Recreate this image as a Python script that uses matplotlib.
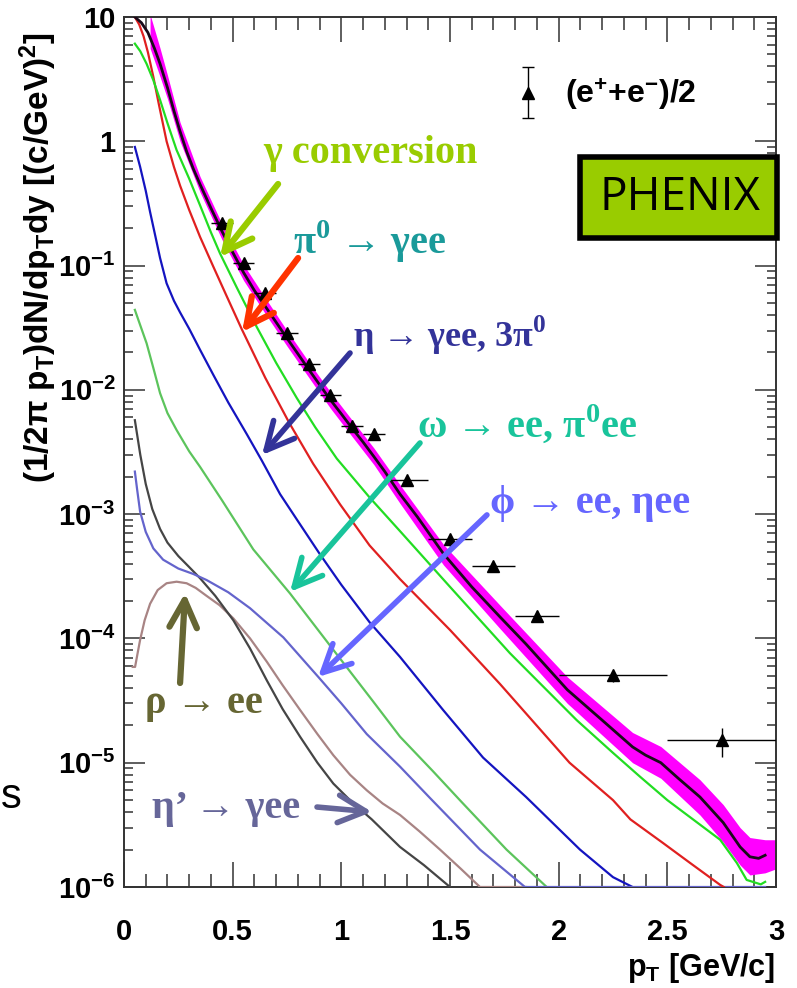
import numpy as np
import matplotlib
matplotlib.use("Agg")
import matplotlib.pyplot as plt
from matplotlib.patches import Rectangle
from matplotlib.ticker import FixedLocator, FixedFormatter, LogLocator, MultipleLocator, NullFormatter
from matplotlib.container import ErrorbarContainer
from matplotlib.legend_handler import HandlerErrorbar

plt.rcParams["mathtext.fontset"] = "custom"
plt.rcParams["mathtext.rm"] = "Liberation Sans:bold"
plt.rcParams["mathtext.it"] = "Liberation Sans:bold"
plt.rcParams["mathtext.bf"] = "Liberation Serif:bold"
plt.rcParams["font.family"] = ["Liberation Sans", "DejaVu Sans"]

# measured single electrons (e+ + e-)/2
pt_data = [0.45, 0.55, 0.65, 0.75, 0.85, 0.95, 1.05, 1.15, 1.3, 1.5, 1.7, 1.9, 2.25, 2.75]
yield_data = [0.221, 0.105, 0.0602, 0.0288, 0.0161, 0.0091, 0.00515, 0.0044,
              1.88e-3, 6.28e-4, 3.83e-4, 1.52e-4, 5.08e-5, 1.51e-5]
pt_halfwidth = [0.05, 0.05, 0.05, 0.05, 0.05, 0.05, 0.05, 0.05, 0.1, 0.1, 0.1, 0.1, 0.25, 0.25]
err_lo = [0, 0, 0, 0, 0, 0, 0, 0, 0.1e-3, 0.8e-4, 0.3e-4, 0.15e-4, 0.6e-5, 0.4e-5]
err_hi = [0, 0, 0, 0, 0, 0, 0, 0, 0.1e-3, 0.3e-4, 0.3e-4, 0.15e-4, 0.3e-5, 0.4e-5]

# cocktail sum and its systematic band
pt_sum = [0.05, 0.08, 0.11, 0.14, 0.166, 0.20, 0.23, 0.258, 0.288, 0.319, 0.35, 0.40, 0.45,
          0.50, 0.55, 0.60, 0.65, 0.70, 0.75, 0.80, 0.85, 0.90, 0.95, 1.00, 1.05, 1.10, 1.15,
          1.20, 1.27, 1.35, 1.47, 1.60, 1.73, 1.85, 2.04, 2.20, 2.34, 2.40, 2.47, 2.55, 2.65,
          2.757, 2.835, 2.88, 2.92, 2.95]
sum_yield = [10.0, 9.0, 7.5, 5.6, 4.2, 2.7, 1.75, 1.2, 0.83, 0.6, 0.45, 0.29, 0.19, 0.128,
             0.088, 0.063, 0.047, 0.035, 0.026, 0.0195, 0.0146, 0.011, 0.0083, 0.0064, 0.0049,
             0.0038, 0.0029, 0.0022, 1.45e-3, 9.5e-4, 4.8e-4, 2.6e-4, 1.49e-4, 9.0e-5,
             3.86e-5, 2.2e-5, 1.34e-5, 1.15e-5, 1.0e-5, 7.5e-6, 5.3e-6, 3.3e-6, 2.1e-6,
             1.75e-6, 1.7e-6, 1.8e-6]
pt_band = [0.12, 0.166, 0.20, 0.258, 0.35, 0.45, 0.55, 0.65, 0.75, 0.85, 0.95, 1.05, 1.15,
           1.27, 1.47, 1.73, 2.04, 2.34, 2.47, 2.65, 2.757, 2.835, 2.88, 2.95, 3.0]
band_hi = [10.5, 5.6, 3.4, 1.42, 0.52, 0.218, 0.102, 0.055, 0.030, 0.0168, 0.0096, 0.0057,
           0.0034, 1.72e-3, 5.7e-4, 1.85e-4, 4.9e-5, 1.75e-5, 1.35e-5, 7.3e-6, 4.6e-6,
           3.0e-6, 2.5e-6, 2.4e-6, 2.4e-6]
band_lo = [5.6, 3.3, 2.2, 1.0, 0.39, 0.163, 0.076, 0.041, 0.0225, 0.0126, 0.0071, 0.0042,
           0.0025, 1.22e-3, 3.9e-4, 1.2e-4, 3.0e-5, 1.0e-5, 7.5e-6, 3.8e-6, 2.3e-6, 1.5e-6,
           1.25e-6, 1.3e-6, 1.4e-6]

# photon conversions
pt_conv = [0.05, 0.075, 0.104, 0.135, 0.166, 0.20, 0.242, 0.30, 0.35, 0.40, 0.442, 0.52,
           0.611, 0.70, 0.795, 0.88, 0.979, 1.132, 1.27, 1.5, 1.776, 2.083, 2.25, 2.375, 2.5,
           2.743, 2.82, 2.865, 2.93, 2.95]
conv_yield = [6.1, 5.3, 4.2, 3.1, 2.15, 1.4, 0.85, 0.50, 0.305, 0.185, 0.125, 0.066, 0.032,
              0.0165, 8.6e-3, 5.0e-3, 2.8e-3, 1.35e-3, 7.3e-4, 2.6e-4, 7.6e-5, 2.2e-5,
              1.2e-5, 7.7e-6, 5.0e-6, 2.4e-6, 1.56e-6, 1.14e-6, 1.05e-6, 1.1e-6]

# pi0 Dalitz
pt_pi0 = [0.05, 0.07, 0.09, 0.11, 0.135, 0.16, 0.196, 0.23, 0.258, 0.30, 0.35, 0.411, 0.47,
          0.541, 0.65, 0.761, 0.87, 0.994, 1.13, 1.27, 1.5, 1.73, 2.05, 2.25, 2.33, 2.48,
          2.605, 2.743, 2.76]
pi0_yield = [10.0, 8.7, 7.0, 5.2, 3.3, 2.0, 1.0, 0.62, 0.44, 0.28, 0.17, 0.098, 0.058,
             0.031, 0.0125, 5.4e-3, 2.55e-3, 1.2e-3, 5.6e-4, 3.0e-4, 1.17e-4, 4.3e-5,
             1.0e-5, 5.0e-6, 3.5e-6, 2.26e-6, 1.56e-6, 1.04e-6, 1.0e-6]

# eta -> gamma ee, 3pi0
pt_eta = [0.05, 0.074, 0.10, 0.12, 0.145, 0.166, 0.196, 0.23, 0.258, 0.30, 0.35, 0.411,
          0.48, 0.565, 0.634, 0.718, 0.80, 0.90, 1.0, 1.13, 1.27, 1.468, 1.652, 1.85, 2.098,
          2.25, 2.34]
eta_yield = [0.9, 0.625, 0.40, 0.27, 0.17, 0.115, 0.072, 0.052, 0.042, 0.031, 0.021, 0.0132,
             7.9e-3, 4.4e-3, 2.7e-3, 1.45e-3, 8.8e-4, 4.8e-4, 2.7e-4, 1.35e-4, 7.1e-5,
             2.66e-5, 1.1e-5, 5.3e-6, 2.0e-6, 1.2e-6, 1.0e-6]

# omega
pt_omega = [0.05, 0.075, 0.104, 0.135, 0.166, 0.20, 0.242, 0.30, 0.35, 0.45, 0.595, 0.764,
            0.963, 1.147, 1.27, 1.42, 1.55, 1.76, 1.945]
omega_yield = [0.044, 0.033, 0.0237, 0.015, 9.4e-3, 6.5e-3, 4.75e-3, 3.2e-3, 2.4e-3, 1.3e-3,
               5.2e-4, 2.3e-4, 8.1e-5, 3.1e-5, 1.62e-5, 8.6e-6, 4.9e-6, 2.0e-6, 1.0e-6]

# phi
pt_phi = [0.05, 0.06, 0.074, 0.10, 0.135, 0.18, 0.25, 0.319, 0.38, 0.48, 0.58, 0.733, 0.894,
          1.0, 1.117, 1.27, 1.408, 1.638, 1.845, 2.95]
phi_yield = [2.2e-3, 1.6e-3, 1.05e-3, 7.2e-4, 5.3e-4, 4.3e-4, 3.65e-4, 3.3e-4, 2.95e-4,
             2.35e-4, 1.75e-4, 1.02e-4, 4.9e-5, 3.0e-5, 1.7e-5, 9.3e-6, 5.2e-6, 2.0e-6,
             1.0e-6, 1.0e-6]

# eta'
pt_etap = [0.05, 0.075, 0.10, 0.13, 0.166, 0.20, 0.25, 0.30, 0.35, 0.42, 0.503, 0.58, 0.657,
           0.73, 0.81, 0.89, 0.963, 1.05, 1.14, 1.27, 1.38, 1.50]
etap_yield = [5.7e-3, 3.0e-3, 1.75e-3, 1.1e-3, 7.6e-4, 5.9e-4, 4.6e-4, 3.75e-4, 3.05e-4,
              2.2e-4, 1.4e-4, 8.3e-5, 4.6e-5, 2.7e-5, 1.62e-5, 1.0e-5, 6.8e-6, 4.8e-6,
              3.5e-6, 2.1e-6, 1.5e-6, 1.0e-6]

# rho
pt_rho = [0.04, 0.051, 0.062, 0.074, 0.095, 0.12, 0.155, 0.196, 0.242, 0.288, 0.33, 0.38,
          0.44, 0.503, 0.58, 0.657, 0.73, 0.81, 0.89, 0.963, 1.04, 1.117, 1.19, 1.27, 1.36,
          1.454, 1.55, 1.638, 1.85]
rho_yield = [5.9e-5, 5.9e-5, 7.5e-5, 9.7e-5, 1.4e-4, 1.9e-4, 2.45e-4, 2.78e-4, 2.86e-4,
             2.78e-4, 2.55e-4, 2.2e-4, 1.85e-4, 1.45e-4, 1.0e-4, 6.5e-5, 4.2e-5, 2.66e-5,
             1.7e-5, 1.15e-5, 8.0e-6, 6.0e-6, 4.7e-6, 3.8e-6, 2.8e-6, 2.0e-6, 1.4e-6,
             1.0e-6, 1.0e-6]

x_ticks = [0, 0.5, 1, 1.5, 2, 2.5, 3]
x_ticklabels = ["0", "0.5", "1", "1.5", "2", "2.5", "3"]
y_ticks = [1e-6, 1e-5, 1e-4, 1e-3, 1e-2, 1e-1, 1, 10]
y_ticklabels = ["10$^{-6}$", "10$^{-5}$", "10$^{-4}$", "10$^{-3}$", "10$^{-2}$",
                "10$^{-1}$", "1", "10"]

fig = plt.figure(figsize=(7.97, 9.88), dpi=100)
ax = fig.add_axes([124 / 797, 1 - 887 / 988, 652 / 797, 870 / 988])
ax.set_yscale("log")
ax.set_xlim(0, 3)
ax.set_ylim(1e-6, 10)

ax.fill_between(pt_band, band_lo, band_hi, color="#ff00ff", lw=0, zorder=2)
ax.plot(pt_rho, rho_yield, color="#a88484", lw=1.6, zorder=3)
ax.plot(pt_etap, etap_yield, color="#454545", lw=1.6, zorder=3)
ax.plot(pt_omega, omega_yield, color="#5cc45c", lw=1.6, zorder=3)
ax.plot(pt_eta, eta_yield, color="#1414c0", lw=1.6, zorder=3)
ax.plot(pt_phi, phi_yield, color="#6464cc", lw=1.6, zorder=3)
ax.plot(pt_pi0, pi0_yield, color="#e02020", lw=1.6, zorder=3)
ax.plot(pt_conv, conv_yield, color="#22dd22", lw=1.6, zorder=3)
ax.plot(pt_sum, sum_yield, color="#1a0a1a", lw=2.0, zorder=4)

ax.errorbar(pt_data, yield_data, xerr=pt_halfwidth, yerr=[err_lo, err_hi], fmt="^",
            color="black", ms=9, elinewidth=1.0, capsize=0, zorder=5)

# legend entry with a vertical error bar only
proxy = ax.errorbar([np.nan], [np.nan], yerr=[[1.0], [1.0]], fmt="^", color="black",
                    ms=9, elinewidth=1.0, capsize=4)
ax.legend([proxy], ["(e$^{+}$+e$^{-}$)/2"], loc="center left",
          bbox_to_anchor=(0.59, 0.910), frameon=False, borderpad=0, borderaxespad=0,
          handlelength=1.2, handletextpad=0.55,
          handler_map={ErrorbarContainer: HandlerErrorbar(yerr_size=0.8)},
          prop={"family": "Liberation Sans", "weight": "bold", "size": 23})

# PHENIX badge
ax.add_patch(Rectangle((0.699, 0.746), 0.302, 0.093, transform=ax.transAxes,
                       facecolor="#99cc00", edgecolor="black", lw=4, clip_on=False, zorder=6))
ax.text(0.853, 0.7925, "PHENIX", transform=ax.transAxes, ha="center", va="center",
        fontsize=33, family="Open Sans", color="black", zorder=7)

# source labels and arrows
serif = ["Liberation Serif", "DejaVu Serif"]
labels = [
    ("γ conversion", (0.640, 0.669), (0.709, 0.4534), (0.442, 0.1172), "#99cc00", "#99cc00", 4.5, 29),
    ("π$^{\\mathbf{0}}$ → γee", (0.778, 0.124), (0.801, 0.115), (0.543, 0.0292), "#1a9a9a", "#ff3300", 4.5, 29),
    ("η → γee, 3π$^{\\mathbf{0}}$", (1.054, 0.0221), (1.040, 0.0198), (0.635, 2.99e-3), "#333399", "#333399", 4.0, 26),
    ("ω → ee, π$^{\\mathbf{0}}$ee", (1.348, 4.18e-3), (1.362, 3.74e-3), (0.764, 2.37e-4), "#19c49b", "#19c49b", 4.0, 29),
    ("ϕ → ee, ηee", (1.684, 1.02e-3), (1.670, 9.86e-4), (0.893, 4.9e-5), "#6666ff", "#6666ff", 4.0, 29),
    ("ρ → ee", (0.097, 2.52e-5), (0.258, 4.38e-5), (0.281, 2.32e-4), "#666633", "#666633", 4.5, 29),
    ("η’ → γee", (0.129, 3.6e-6), (0.888, 4.4e-6), (1.141, 4.02e-6), "#666699", "#666699", 4.0, 29),
]
for text, pos, tail, tip, tcol, acol, lw, size in labels:
    ax.text(pos[0], pos[1], text, color=tcol, fontsize=size, fontweight="bold", family=serif,
            ha="left", va="baseline", zorder=8)
    ax.annotate("", xy=tip, xytext=tail,
                arrowprops=dict(arrowstyle="->,head_length=1.1,head_width=0.55", lw=lw,
                                color=acol, shrinkA=0, shrinkB=0, mutation_scale=18),
                zorder=8)

# axis styling
for side in ax.spines.values():
    side.set_linewidth(1.4)
    side.set_color("#333333")
ax.xaxis.set_major_locator(FixedLocator(x_ticks))
ax.xaxis.set_major_formatter(FixedFormatter(x_ticklabels))
ax.xaxis.set_minor_locator(MultipleLocator(0.1))
ax.yaxis.set_major_locator(FixedLocator(y_ticks))
ax.yaxis.set_major_formatter(FixedFormatter(y_ticklabels))
ax.yaxis.set_minor_locator(LogLocator(base=10, subs=np.arange(2, 10), numticks=20))
ax.yaxis.set_minor_formatter(NullFormatter())
ax.tick_params(axis="both", which="both", direction="in", top=True, right=True,
               color="#333333", width=1.1)
ax.tick_params(axis="x", which="major", length=18, pad=22, labelsize=21)
ax.tick_params(axis="x", which="minor", length=9.5)
ax.tick_params(axis="y", which="major", length=15, pad=6, labelsize=21)
ax.tick_params(axis="y", which="minor", length=6.5)
for lab in ax.get_xticklabels() + ax.get_yticklabels():
    lab.set_fontweight("bold")

fig.text(38 / 797, 1 - 258 / 988,
         "(1/2π p$_{T}$)dN/dp$_{T}$dy [(c/GeV)$^{2}$]",
         rotation=90, ha="center", va="center", fontsize=24, fontweight="bold")
fig.text(775 / 797, 1 - 968 / 988, "p$_{T}$ [GeV/c]", ha="right", va="center",
         fontsize=22, fontweight="bold")
fig.text(1 / 797, 1 - 797 / 988, "s", ha="left", va="center", fontsize=30)

fig.savefig("out.png", dpi=100)
